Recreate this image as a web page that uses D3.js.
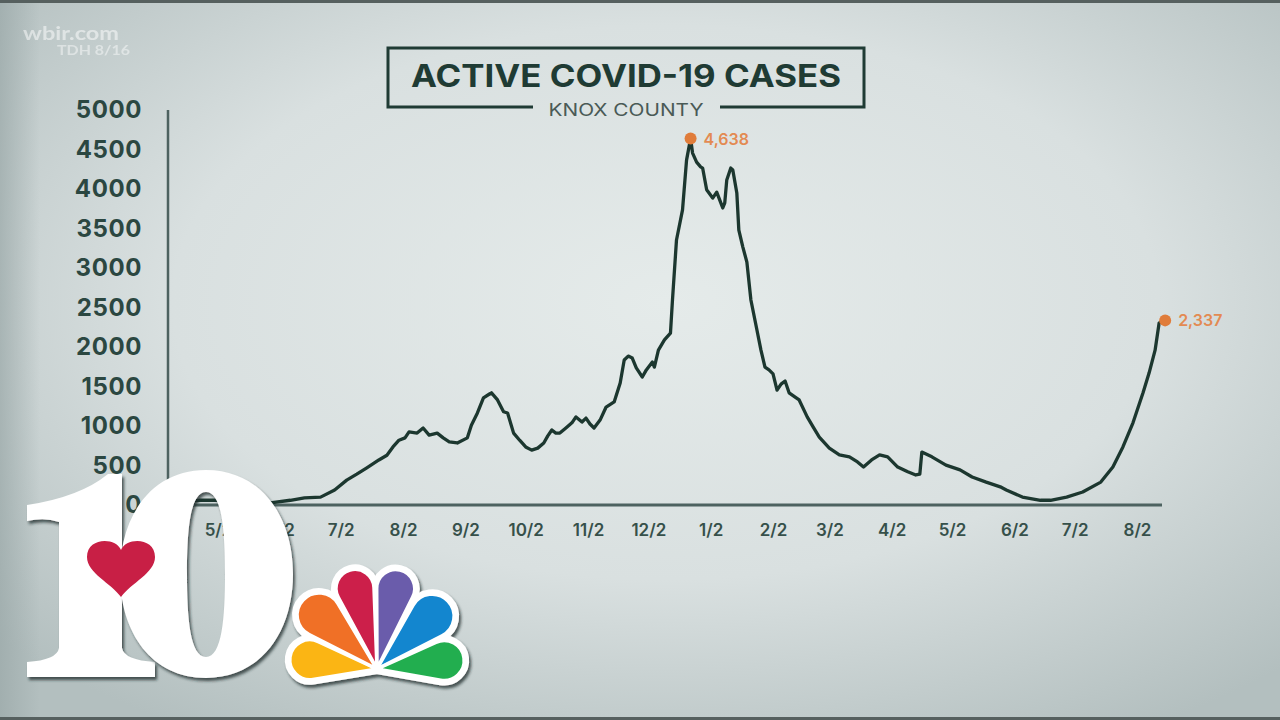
<!DOCTYPE html>
<html>
<head>
<meta charset="utf-8">
<script src="https://cdn.jsdelivr.net/npm/d3@7"></script>
<style>
  html, body { margin: 0; padding: 0; background: #d8dfdf; }
  svg { display: block; }
</style>
</head>
<body>
<svg id="chart" width="1280" height="720"></svg>
<script>
// ---------------- DATA ----------------
const dates = [
  "2020-04-08","2020-04-16","2020-04-23","2020-05-01","2020-05-13","2020-05-29","2020-06-07","2020-06-14",
  "2020-06-22","2020-06-29","2020-07-05","2020-07-10","2020-07-15","2020-07-21","2020-07-25","2020-07-28",
  "2020-07-31","2020-08-03","2020-08-05","2020-08-09","2020-08-12","2020-08-15","2020-08-19","2020-08-22",
  "2020-08-25","2020-08-29","2020-09-03","2020-09-05","2020-09-08","2020-09-11","2020-09-14","2020-09-15",
  "2020-09-18","2020-09-21","2020-09-23","2020-09-26","2020-09-29","2020-10-02","2020-10-05","2020-10-08",
  "2020-10-11","2020-10-13","2020-10-15","2020-10-17","2020-10-19","2020-10-22","2020-10-25","2020-10-27",
  "2020-10-30","2020-11-01","2020-11-03","2020-11-05","2020-11-08","2020-11-11","2020-11-15","2020-11-18",
  "2020-11-20","2020-11-22","2020-11-24","2020-11-26","2020-11-29","2020-12-01","2020-12-04","2020-12-05",
  "2020-12-07","2020-12-10","2020-12-13","2020-12-14","2020-12-16","2020-12-19","2020-12-21","2020-12-23",
  "2020-12-24","2020-12-26","2020-12-28","2020-12-29","2020-12-31","2021-01-03","2021-01-05","2021-01-08",
  "2021-01-09","2021-01-10","2021-01-12","2021-01-13","2021-01-15","2021-01-16","2021-01-18","2021-01-20",
  "2021-01-22","2021-01-25","2021-01-27","2021-01-29","2021-01-31","2021-02-02","2021-02-04","2021-02-06",
  "2021-02-08","2021-02-10","2021-02-13","2021-02-15","2021-02-19","2021-02-22","2021-02-25","2021-03-02",
  "2021-03-07","2021-03-12","2021-03-16","2021-03-19","2021-03-23","2021-03-27","2021-03-31","2021-04-05",
  "2021-04-10","2021-04-14","2021-04-16","2021-04-17","2021-04-22","2021-04-29","2021-05-06","2021-05-12",
  "2021-05-19","2021-05-26","2021-05-29","2021-06-06","2021-06-15","2021-06-20","2021-06-28","2021-07-06",
  "2021-07-15","2021-07-21","2021-07-26","2021-07-31","2021-08-05","2021-08-08","2021-08-11","2021-08-13",
  "2021-08-16"
];
const activeCases = [
  20,40,60,60,40,30,60,90,
  100,190,315,390,470,570,630,735,
  820,850,925,910,975,885,910,850,
  800,785,850,1010,1165,1355,1405,1420,
  1330,1180,1165,910,820,735,695,720,
  785,875,950,910,910,975,1040,1115,
  1050,1100,1025,975,1075,1240,1305,1545,
  1835,1885,1860,1735,1620,1710,1810,1745,
  1960,2090,2175,2595,3355,3735,4365,4638,
  4455,4340,4280,4265,3990,3885,3960,3760,
  3825,4115,4265,4240,3950,3480,3265,3075,
  2595,2215,1960,1745,1710,1660,1455,1530,
  1570,1420,1365,1330,1115,985,860,720,
  635,610,545,480,570,635,610,480,
  420,380,390,670,610,505,445,355,
  290,230,190,100,60,60,100,165,
  290,480,735,1040,1420,1670,1960,2305,
  2337
];
const yTickValues = [0,500,1000,1500,2000,2500,3000,3500,4000,4500,5000];
const xTickDates = ["2020-05-02","2020-06-02","2020-07-02","2020-08-02","2020-09-02","2020-10-02","2020-11-02",
  "2020-12-02","2021-01-02","2021-02-02","2021-03-02","2021-04-02","2021-05-02","2021-06-02","2021-07-02","2021-08-02"];
const xTickLabels = ["5/2","6/2","7/2","8/2","9/2","10/2","11/2","12/2","1/2","2/2","3/2","4/2","5/2","6/2","7/2","8/2"];
const highlightDates = ["2020-12-23","2021-08-16"];
const highlightValues = [4638, 2337];
const titleText = "ACTIVE COVID-19 CASES";
const subtitleText = "KNOX COUNTY";
const sourceText = ["wbir.com", "TDH 8/16"];

// ---------------- SETUP ----------------
const parse = d3.timeParse("%Y-%m-%d");
const series = dates.map((d, i) => ({ date: parse(d), value: activeCases[i] }));
const W = 1280, H = 720;
const svg = d3.select("#chart");
const defs = svg.append("defs");

const bg = defs.append("radialGradient").attr("id", "bg")
  .attr("cx", "52%").attr("cy", "42%").attr("r", "70%");
bg.append("stop").attr("offset", "0%").attr("stop-color", "#e5ebea");
bg.append("stop").attr("offset", "55%").attr("stop-color", "#d9e0e0");
bg.append("stop").attr("offset", "100%").attr("stop-color", "#b3bfbf");
svg.append("rect").attr("width", W).attr("height", H).attr("fill", "url(#bg)");
const edge = defs.append("linearGradient").attr("id", "edge").attr("x1", 0).attr("x2", 1);
edge.append("stop").attr("offset", "0%").attr("stop-color", "#9aa8a8").attr("stop-opacity", 0.7);
edge.append("stop").attr("offset", "100%").attr("stop-color", "#9aa8a8").attr("stop-opacity", 0);
svg.append("rect").attr("width", 40).attr("height", H).attr("fill", "url(#edge)");
svg.append("rect").attr("width", W).attr("height", 3).attr("fill", "#56605f");
svg.append("rect").attr("y", H - 3).attr("width", W).attr("height", 3).attr("fill", "#56605f");

const x = d3.scaleTime().domain([parse("2020-05-02"), parse("2021-08-02")]).range([218, 1137]);
const y = d3.scaleLinear().domain([0, 5000]).range([505, 110]);
const axisColor = "#4d6260";
const inkColor = "#1c372f";

// watermark
const blur = defs.append("filter").attr("id", "soft");
blur.append("feGaussianBlur").attr("stdDeviation", 0.6);
svg.append("text").attr("x", 23).attr("y", 40).text(sourceText[0])
  .attr("font-family", "Lato, sans-serif").attr("font-weight", 700).attr("font-size", 19)
  .attr("textLength", 96).attr("lengthAdjust", "spacingAndGlyphs")
  .attr("fill", "#ffffff").attr("fill-opacity", 0.5).attr("filter", "url(#soft)");
svg.append("text").attr("x", 57).attr("y", 55).text(sourceText[1])
  .attr("font-family", "Lato, sans-serif").attr("font-weight", 700).attr("font-size", 13)
  .attr("textLength", 73).attr("lengthAdjust", "spacingAndGlyphs")
  .attr("fill", "#ffffff").attr("fill-opacity", 0.45).attr("filter", "url(#soft)");

// title box
const tb = svg.append("g");
tb.append("path")
  .attr("d", "M533,107 L388,107 L388,48 L864,48 L864,107 L720,107")
  .attr("fill", "none").attr("stroke", "#1f3b34").attr("stroke-width", 3);
tb.append("text").attr("x", 626).attr("y", 87).attr("text-anchor", "middle").text(titleText)
  .attr("font-family", "Inter, 'Open Sans', sans-serif").attr("font-weight", 700).attr("font-size", 31)
  .attr("textLength", 430).attr("lengthAdjust", "spacingAndGlyphs").attr("fill", "#1f3b34");
tb.append("text").attr("x", 626).attr("y", 116).attr("text-anchor", "middle").text(subtitleText)
  .attr("font-family", "Inter, 'Open Sans', sans-serif").attr("font-weight", 400).attr("font-size", 17)
  .attr("textLength", 155).attr("lengthAdjust", "spacingAndGlyphs").attr("fill", "#4a5a56");

// y axis
const yAxis = d3.axisLeft(y).tickValues(yTickValues).tickSize(0).tickPadding(26).tickFormat(d3.format("d"));
const gy = svg.append("g").attr("transform", "translate(168,0)").call(yAxis);
gy.select(".domain").remove();
gy.selectAll("text").attr("font-family", "Inter, sans-serif").attr("font-weight", 700)
  .attr("font-size", 24).attr("fill", "#2b4741").attr("letter-spacing", "0.6px");

// x axis
const xAxis = d3.axisBottom(x).tickValues(xTickDates.map(parse)).tickSize(0).tickPadding(19)
  .tickFormat((d, i) => xTickLabels[i]);
const gx = svg.append("g").attr("transform", "translate(0,505)").call(xAxis);
gx.select(".domain").remove();
gx.selectAll("text").attr("font-family", "Inter, sans-serif").attr("font-weight", 600)
  .attr("font-size", 17).attr("fill", "#36504a");

// axis lines
svg.append("line").attr("x1", 168).attr("x2", 168).attr("y1", y(5000)).attr("y2", y(0))
  .attr("stroke", axisColor).attr("stroke-width", 2.5);
svg.append("line").attr("x1", 167).attr("x2", 1162).attr("y1", y(0)).attr("y2", y(0))
  .attr("stroke", axisColor).attr("stroke-width", 3);

// line
const line = d3.line().x(d => x(d.date)).y(d => y(d.value));
svg.append("path").datum(series).attr("d", line).attr("fill", "none")
  .attr("stroke", inkColor).attr("stroke-width", 3.3).attr("stroke-linejoin", "round");

// highlights
const hl = highlightDates.map((d, i) => ({ date: parse(d), value: highlightValues[i] }));
svg.selectAll("circle.hl").data(hl).join("circle").attr("class", "hl")
  .attr("cx", d => x(d.date)).attr("cy", d => y(d.value)).attr("r", 6).attr("fill", "#e07c3a");
svg.selectAll("text.hl").data(hl).join("text").attr("class", "hl")
  .attr("x", d => x(d.date) + 13).attr("y", d => y(d.value) + 6)
  .text(d => d3.format(",")(d.value))
  .attr("font-family", "Inter, sans-serif").attr("font-weight", 600).attr("font-size", 16)
  .attr("fill", "#e38a52");

// ---------------- LOGO ----------------
const sh = defs.append("filter").attr("id", "shadow").attr("x", "-20%").attr("y", "-20%")
  .attr("width", "140%").attr("height", "140%");
sh.append("feDropShadow").attr("dx", 2).attr("dy", 3).attr("stdDeviation", 1.5)
  .attr("flood-color", "#1e2a2a").attr("flood-opacity", 0.75);

const logo = svg.append("g");
// "1"
logo.append("path")
  .attr("d", "M122,474 L122,648 Q124,660 155,662 L155,677 L27,677 L27,662 Q57,660 59,648 L59,522 Q45,517 27,521 L27,505 Q80,497 108,474 Z")
  .attr("fill", "#ffffff").attr("filter", "url(#shadow)");
// "0"
logo.append("path")
  .attr("d", "M206,470 C260,470 293,515 293,574 C293,633 260,678 206,678 C152,678 120,633 120,574 C120,515 152,470 206,470 Z " +
             "M206,492 C190,492 187,530 187,574 C187,618 190,657 206,657 C222,657 225,618 225,574 C225,530 222,492 206,492 Z")
  .attr("fill", "#ffffff").attr("fill-rule", "evenodd").attr("filter", "url(#shadow)");
// heart
logo.append("path")
  .attr("transform", "translate(121,565)")
  .attr("d", "M0,-15 C-5,-28 -34,-28 -34,-8 C-34,8 -10,18 0,32 C10,18 34,8 34,-8 C34,-28 5,-28 0,-15 Z")
  .attr("fill", "#c81f45");

// peacock
const base = [377, 669];
const feathers = [
  { c: "#fbb514", tip: [290, 657], r: 20 },
  { c: "#f07026", tip: [303, 600], r: 22 },
  { c: "#cc1f4a", tip: [350, 570], r: 19 },
  { c: "#6a5cab", tip: [400, 570], r: 19 },
  { c: "#1386cf", tip: [448, 601], r: 22 },
  { c: "#22ae4f", tip: [464, 658], r: 20 }
];
function featherPath(f) {
  const dx = f.tip[0] - base[0], dy = f.tip[1] - base[1];
  const L = Math.hypot(dx, dy), ux = dx / L, uy = dy / L;
  const D = L - f.r;
  const cx = base[0] + ux * D, cy = base[1] + uy * D;
  const back = Math.atan2(-uy, -ux);
  const a = Math.acos(Math.min(0.99, f.r / D));
  const p1 = [cx + f.r * Math.cos(back + a), cy + f.r * Math.sin(back + a)];
  const p2 = [cx + f.r * Math.cos(back - a), cy + f.r * Math.sin(back - a)];
  return `M${base[0]},${base[1]} L${p1[0]},${p1[1]} A${f.r},${f.r} 0 1 1 ${p2[0]},${p2[1]} Z`;
}
const pk = logo.append("g");
pk.append("g").attr("filter", "url(#shadow)").selectAll("path").data(feathers).join("path")
  .attr("d", featherPath).attr("fill", "#ffffff").attr("stroke", "#ffffff")
  .attr("stroke-width", 10).attr("stroke-linejoin", "round");
pk.append("g").selectAll("path").data(feathers).join("path")
  .attr("d", featherPath).attr("fill", d => d.c).attr("stroke", "#ffffff")
  .attr("stroke-width", 3.5).attr("stroke-linejoin", "round");
</script>
</body>
</html>
